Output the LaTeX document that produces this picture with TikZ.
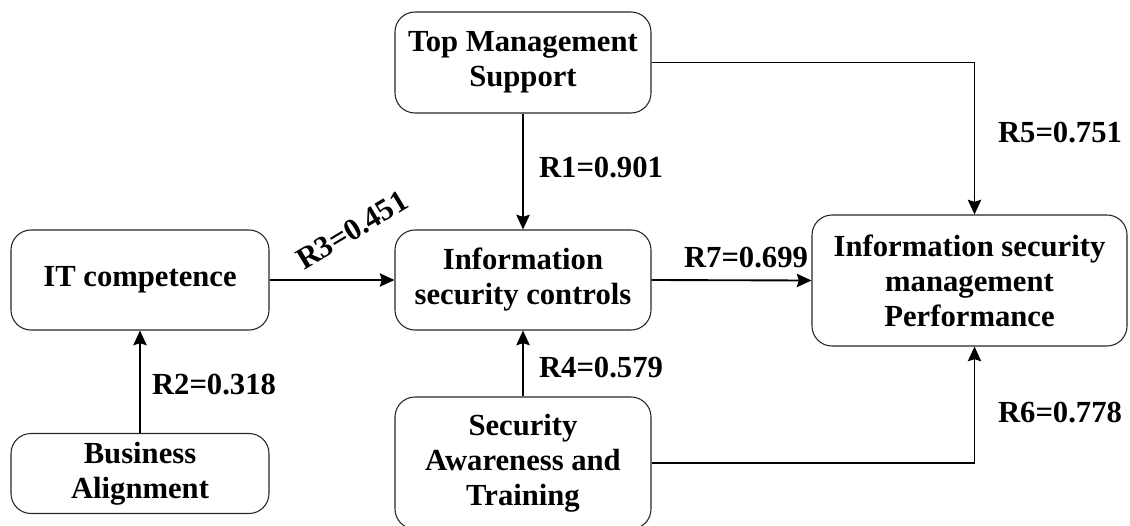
\documentclass[tikz,border=0pt]{standalone}
\usepackage{fontspec}
\setmainfont{Liberation Serif}
\usetikzlibrary{arrows.meta}
\begin{document}
\begin{tikzpicture}[x=0.75pt,y=-0.75pt,
  box/.style={draw=black!85, line width=0.8pt, rounded corners=15pt, align=center,
    font=\fontsize{23}{26.25}\selectfont\bfseries, inner sep=0pt},
  lbl/.style={font=\fontsize{23}{26.25}\selectfont\bfseries, inner sep=0pt},
  arr/.style={line width=1.4pt, -{Stealth[length=11pt,width=10pt,inset=1.5pt]}}]
\useasboundingbox (0,0) rectangle (1130,525);
\node[box, minimum width=192pt, minimum height=75.75pt] (tms) at (523,62.5) {Top Management\\Support};
\node[box, minimum width=192pt, minimum height=75pt] (isc) at (523,280) {Information\\security controls};
\node[box, minimum width=192pt, minimum height=99pt] (sat) at (523,463) {Security\\Awareness and\\Training};
\node[box, minimum width=193.5pt, minimum height=75pt] (itc) at (140,280) {IT competence};
\node[box, minimum width=193.5pt, minimum height=60pt] (ba) at (140,473.5) {Business\\Alignment};
\node[box, minimum width=236.25pt, minimum height=98.25pt] (ismp) at (969.5,280.5) {Information security\\management\\Performance};
\draw[arr] (tms.south) -- (isc.north);
\draw[arr] (sat.north) -- (isc.south);
\draw[arr] (itc.east) -- (isc.west);
\draw[arr] (ba.north) -- (itc.south);
\draw[arr] (isc.east) -- (ismp.west);
\draw[arr] (tms.east) -| ([xshift=3.75pt]ismp.north);
\draw[arr] (sat.east) -| ([xshift=3.75pt]ismp.south);
\node[lbl] (l1) at (601,168) {R1=0.901};
\node[lbl] (l2) at (214,385) {R2=0.318};
\node[lbl, rotate=31] (l3) at (352,230) {R3=0.451};
\node[lbl] (l4) at (601,368) {R4=0.579};
\node[lbl] (l5) at (1060,133) {R5=0.751};
\node[lbl] (l6) at (1060,413) {R6=0.778};
\node[lbl] (l7) at (746,258) {R7=0.699};
\end{tikzpicture}
\end{document}
